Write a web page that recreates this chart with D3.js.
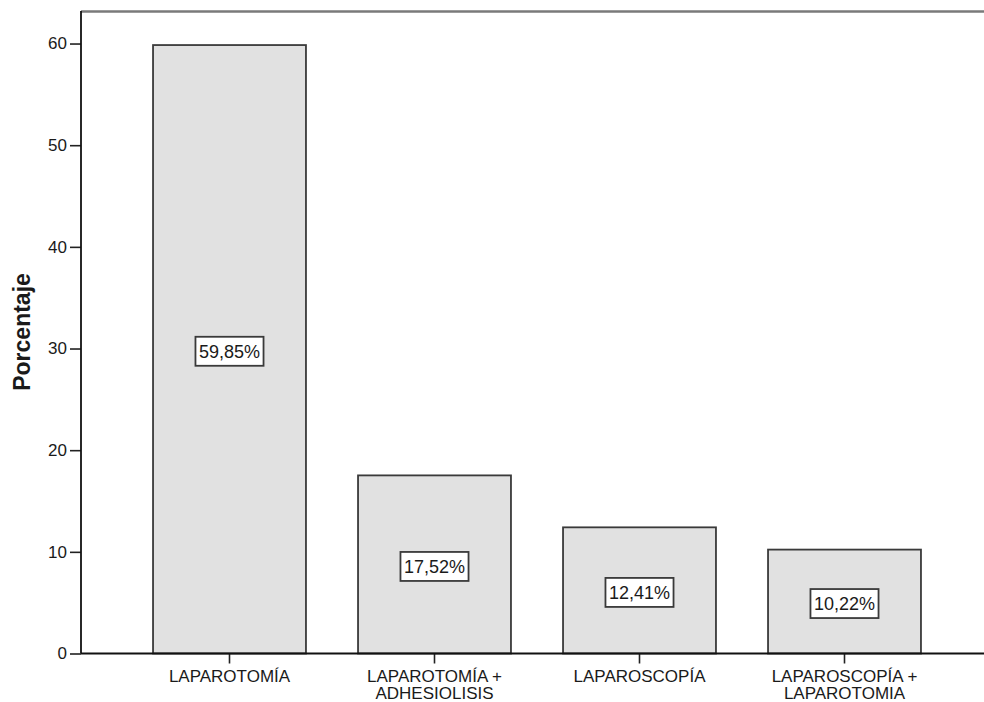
<!DOCTYPE html>
<html>
<head>
<meta charset="utf-8">
<script src="https://cdn.jsdelivr.net/npm/d3@7"></script>
<style>
  html, body { margin: 0; padding: 0; background: #fff; }
  svg { display: block; }
  text { font-family: Arial, "Liberation Sans", sans-serif; fill: #1a1a1a; }
</style>
</head>
<body>
<svg id="chart" width="984" height="702"></svg>
<script>
// Tipo de cirugía: porcentaje de pacientes
const categories = [
  ["LAPAROTOMÍA"],
  ["LAPAROTOMÍA +", "ADHESIOLISIS"],
  ["LAPAROSCOPÍA"],
  ["LAPAROSCOPÍA +", "LAPAROTOMIA"]
];
const percentages = [59.85, 17.52, 12.41, 10.22];
const valueLabels = ["59,85%", "17,52%", "12,41%", "10,22%"];
const yTicks = [0, 10, 20, 30, 40, 50, 60];
const yTitle = "Porcentaje";

const svg = d3.select("#chart");
const keys = categories.map(c => c.join(" "));

const plotLeft = 81, plotBottom = 653.5, plotTop = 11, plotRight = 984;

const x = d3.scaleBand()
  .domain(keys)
  .range([127, 947])
  .paddingInner(0.254)
  .paddingOuter(0.127);

const y = d3.scaleLinear()
  .domain([0, 63.2])
  .range([plotBottom, plotTop]);

// top frame line
svg.append("line")
  .attr("x1", plotLeft).attr("x2", plotRight)
  .attr("y1", plotTop + 0.5).attr("y2", plotTop + 0.5)
  .attr("stroke", "#7a7a7a").attr("stroke-width", 2.5);

// bars
svg.append("g").selectAll("rect")
  .data(percentages)
  .join("rect")
  .attr("x", (d, i) => x(keys[i]))
  .attr("y", d => y(d))
  .attr("width", x.bandwidth())
  .attr("height", d => plotBottom - y(d))
  .attr("fill", "#e1e1e1")
  .attr("stroke", "#3a3a3a")
  .attr("stroke-width", 1.8);

// y axis
const yAxis = svg.append("g")
  .attr("transform", `translate(${plotLeft},0)`)
  .call(d3.axisLeft(y).tickValues(yTicks).tickSize(11).tickPadding(3).tickFormat(d3.format("d")));
yAxis.select(".domain").remove();
yAxis.selectAll(".tick line").attr("stroke", "#222").attr("stroke-width", 1.6);
yAxis.selectAll(".tick text").attr("font-size", 17).attr("fill", "#222")
  .attr("font-family", "Arial, 'Liberation Sans', sans-serif");
svg.append("line")
  .attr("x1", plotLeft).attr("x2", plotLeft)
  .attr("y1", plotTop).attr("y2", plotBottom)
  .attr("stroke", "#111").attr("stroke-width", 1.8);

// x axis
const xAxis = svg.append("g")
  .attr("transform", `translate(0,${plotBottom})`)
  .call(d3.axisBottom(x).tickSize(10).tickFormat(""));
xAxis.select(".domain").remove();
xAxis.selectAll(".tick line").attr("stroke", "#222").attr("stroke-width", 1.6);
svg.append("line")
  .attr("x1", plotLeft).attr("x2", plotRight)
  .attr("y1", plotBottom).attr("y2", plotBottom)
  .attr("stroke", "#111").attr("stroke-width", 1.8);

// category labels, one text element per line
const catLines = categories.flatMap((lines, i) =>
  lines.map((t, j) => ({ t, j, key: keys[i] })));
svg.append("g").selectAll("text")
  .data(catLines)
  .join("text")
  .attr("x", d => x(d.key) + x.bandwidth() / 2)
  .attr("y", d => 682 + d.j * 16.5)
  .attr("text-anchor", "middle")
  .attr("font-size", 17)
  .text(d => d.t);

// y axis title
svg.append("text")
  .attr("transform", `translate(30,332) rotate(-90)`)
  .attr("text-anchor", "middle")
  .attr("font-size", 23)
  .attr("font-weight", "bold")
  .text(yTitle);

// value labels in boxes at the middle of each bar
const lab = svg.append("g").selectAll("g")
  .data(percentages)
  .join("g")
  .attr("transform", (d, i) => `translate(${x(keys[i]) + x.bandwidth() / 2},${y(d / 2) + 2})`);

lab.append("text")
  .attr("text-anchor", "middle")
  .attr("dy", "0.35em")
  .attr("font-size", 18)
  .text((d, i) => valueLabels[i]);

lab.each(function() {
  const g = d3.select(this);
  const bb = g.select("text").node().getBBox();
  g.insert("rect", "text")
    .attr("x", bb.x - 3.5)
    .attr("y", -14.5)
    .attr("width", bb.width + 7)
    .attr("height", 29)
    .attr("fill", "#fff")
    .attr("stroke", "#3a3a3a")
    .attr("stroke-width", 1.8);
});
</script>
</body>
</html>
